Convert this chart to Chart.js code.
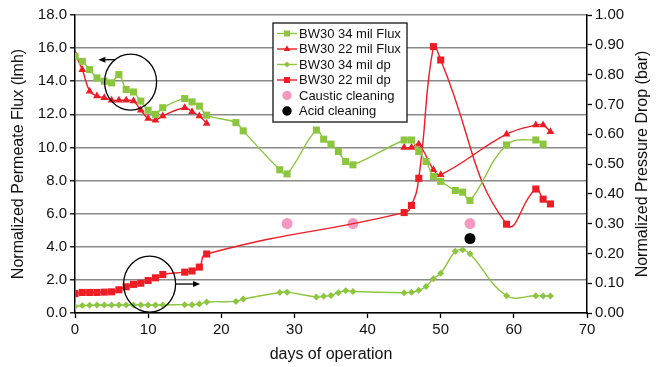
<!DOCTYPE html>
<html><head><meta charset="utf-8">
<script src="https://cdn.jsdelivr.net/npm/chart.js@4"></script>
<style>html,body{margin:0;padding:0;background:#fff}canvas{display:block}</style>
</head><body>
<canvas id="c" width="660" height="367"></canvas>
<script>
// ---- data ----
const flux34Days = [0,1,2,3,4,5,6,7,8,9,10,11,12,15,16,17,18,22,23,28,29,33,34,35,36,37,38,45,46,47,48,49,50,52,53,54,59,63,64];
const flux34     = [15.5,15.2,14.7,14.2,14.0,13.9,14.4,13.5,13.35,12.8,12.25,12.0,12.4,12.95,12.75,12.5,11.95,11.5,11.0,8.65,8.4,11.05,10.5,10.2,9.75,9.15,8.95,10.45,10.45,9.75,9.15,8.25,7.95,7.4,7.3,6.8,10.15,10.45,10.2];
// null = no measurement (line is broken between day 18 and day 45)
const flux22Days = [0,1,2,3,4,5,6,7,8,9,10,11,12,15,16,17,18,30,45,46,47,49,50,59,63,64,65];
const flux22     = [15.65,14.7,13.4,13.1,13.0,12.85,12.85,12.85,12.8,12.25,11.75,11.65,11.9,12.4,12.15,11.9,11.45,null,10.0,10.0,10.2,8.65,8.35,10.8,11.35,11.35,10.95];
const dp34Days   = [0,1,2,3,4,5,6,7,8,9,10,11,12,15,16,17,18,22,23,28,29,33,34,35,36,37,38,45,46,47,48,49,50,52,53,54,59,63,64,65];
const dp34       = [0.022,0.025,0.026,0.027,0.027,0.027,0.027,0.027,0.027,0.027,0.027,0.027,0.027,0.028,0.028,0.030,0.037,0.039,0.047,0.069,0.070,0.054,0.056,0.059,0.068,0.075,0.072,0.068,0.070,0.076,0.089,0.115,0.133,0.207,0.212,0.199,0.058,0.058,0.057,0.057];
const dp22Days   = [0,1,2,3,4,5,6,7,8,9,10,11,12,15,16,17,18,45,46,47,49,50,59,63,64,65];
const dp22       = [0.065,0.069,0.069,0.069,0.070,0.071,0.078,0.088,0.096,0.100,0.109,0.118,0.129,0.137,0.141,0.154,0.198,0.337,0.361,0.452,0.894,0.849,0.298,0.416,0.382,0.366];
const causticDays = [29,38,54];
const caustic     = [0.30,0.30,0.30];
const acidDays    = [54];
const acid        = [0.25];
const xTicks = [0,10,20,30,40,50,60,70];
// annotation marks in data units: [centerDay, centerFlux, arrowFromDay, arrowToDay, arrowFlux]
const circleNotes = [
  [7.6, 13.95, 5.5, 3.2, 15.3],
  [10.2, 1.75, 13.8, 17.1, 1.75]
];

const FONT = '"Liberation Sans", Arial, sans-serif';
const GREEN = '#8cc63f', RED = '#ee1c25', PINK = '#f49ac1';
const pts = (xs, ys) => xs.map((x, i) => ({x, y: ys[i]}));

const datasets = [
  {label:'BW30 34 mil Flux', data:pts(flux34Days, flux34), yAxisID:'y', borderColor:GREEN, backgroundColor:GREEN, pointStyle:'rect', pointRadius:5},
  {label:'BW30 22 mil Flux', data:pts(flux22Days, flux22), yAxisID:'y', borderColor:RED, backgroundColor:RED, pointStyle:'triangle', pointRadius:4.5},
  {label:'BW30 34 mil dp', data:pts(dp34Days, dp34), yAxisID:'y1', borderColor:GREEN, backgroundColor:GREEN, pointStyle:'rectRot', pointRadius:3.5},
  {label:'BW30 22 mil dp', data:pts(dp22Days, dp22), yAxisID:'y1', borderColor:RED, backgroundColor:RED, pointStyle:'rect', pointRadius:5, tension:0.5},
  {label:'Caustic cleaning', data:pts(causticDays, caustic), yAxisID:'y1', borderColor:PINK, backgroundColor:PINK, pointStyle:'circle', pointRadius:5.5, showLine:false},
  {label:'Acid cleaning', data:pts(acidDays, acid), yAxisID:'y1', borderColor:'#000', backgroundColor:'#000', pointStyle:'circle', pointRadius:5.5, showLine:false}
].map(d => Object.assign({borderWidth:1.4, tension:0.4, pointBorderWidth:0, pointHoverRadius:d.pointRadius, spanGaps:false}, d));

const legendPlugin = {
  id:'boxLegend',
  afterDraw(chart, args, o) {
    const ctx = chart.ctx;
    ctx.save();
    ctx.fillStyle = '#fff';
    ctx.fillRect(o.left, o.top, o.width, o.height);
    ctx.strokeStyle = '#333'; ctx.lineWidth = 1.5;
    ctx.strokeRect(o.left, o.top, o.width, o.height);
    ctx.font = o.fontSize + 'px ' + FONT;
    ctx.textBaseline = 'middle';
    chart.data.datasets.forEach((ds, i) => {
      const cy = o.top + o.first + i * o.rowH;
      const x0 = o.left + 4, x1 = o.left + 24;
      if (ds.showLine !== false) {
        ctx.strokeStyle = ds.borderColor; ctx.lineWidth = 1.4;
        ctx.beginPath(); ctx.moveTo(x0, cy); ctx.lineTo(x1, cy); ctx.stroke();
      }
      ctx.fillStyle = ds.backgroundColor;
      Chart.helpers.drawPoint(ctx, {pointStyle:ds.pointStyle, radius:ds.pointRadius*0.85, rotation:0, borderWidth:0}, (x0+x1)/2, cy);
      ctx.fillStyle = '#111';
      ctx.fillText(ds.label, o.left + 26, cy + 0.5);
    });
    ctx.restore();
  }
};

const notesPlugin = {
  id:'notes',
  afterDatasetsDraw(chart) {
    const ctx = chart.ctx, xs = chart.scales.x, ys = chart.scales.y;
    ctx.save();
    ctx.strokeStyle = '#000'; ctx.fillStyle = '#000'; ctx.lineWidth = 1.3;
    circleNotes.forEach(n => {
      const cx = xs.getPixelForValue(n[0]), cy = ys.getPixelForValue(n[1]);
      ctx.beginPath(); ctx.ellipse(cx, cy, 26, 28, 0, 0, Math.PI*2); ctx.stroke();
      const ax0 = xs.getPixelForValue(n[2]), ax1 = xs.getPixelForValue(n[3]), ay = ys.getPixelForValue(n[4]);
      const dir = Math.sign(ax1 - ax0);
      ctx.beginPath(); ctx.moveTo(ax0, ay); ctx.lineTo(ax1 - dir*5, ay); ctx.stroke();
      ctx.beginPath(); ctx.moveTo(ax1, ay); ctx.lineTo(ax1 - dir*7, ay - 3); ctx.lineTo(ax1 - dir*7, ay + 3); ctx.closePath(); ctx.fill();
    });
    ctx.restore();
  },
  afterDraw(chart) {
    const ctx = chart.ctx, a = chart.chartArea;
    ctx.save();
    ctx.font = '16px ' + FONT; ctx.fillStyle = '#111';
    ctx.textAlign = 'center'; ctx.textBaseline = 'middle';
    ctx.translate(643, (a.top + a.bottom)/2);
    ctx.rotate(-Math.PI/2);
    ctx.fillText('Normalized Pressure Drop (bar)', 0, 0);
    ctx.restore();
  }
};

const tickFont = {family:FONT, size:15};
const titleFont = {family:FONT, size:16};
new Chart(document.getElementById('c'), {
  type:'line',
  data:{datasets},
  plugins:[notesPlugin, legendPlugin],
  options:{
    responsive:false, animation:false, devicePixelRatio:1,
    layout:{padding:{top:15, left:0, right:0, bottom:0}},
    plugins:{
      legend:{display:false}, tooltip:{enabled:false},
      boxLegend:{left:273, top:23, width:134, height:99, first:10.5, rowH:15.5, fontSize:13}
    },
    scales:{
      x:{type:'linear', min:0, max:70,
         afterBuildTicks: s => { s.ticks = xTicks.map(v => ({value:v})); },
         afterFit: s => { s.height = 54; },
         ticks:{font:tickFont, color:'#111', padding:3, maxRotation:0},
         grid:{drawOnChartArea:false, tickLength:5, tickColor:'#000', tickWidth:1.3},
         border:{display:true, color:'#000', width:1.5},
         title:{display:true, text:'days of operation', font:titleFont, color:'#111', padding:{top:0, bottom:3}}},
      y:{position:'left', min:0, max:18,
         afterFit: s => { s.width = 75; },
         ticks:{stepSize:2, font:tickFont, color:'#111', padding:3, callback:v => v.toFixed(1)},
         grid:{color:'#8a8a8a', lineWidth:1.6, tickLength:5, tickColor:'#000', tickWidth:1.3},
         border:{display:true, color:'#000', width:1.5},
         title:{display:true, text:'Normalized Permeate Flux (lmh)', font:titleFont, color:'#111', padding:{top:9, bottom:0}}},
      y1:{position:'right', min:0, max:1,
         afterFit: s => { s.width = 73; },
         ticks:{stepSize:0.1, font:tickFont, color:'#111', padding:3, callback:v => v.toFixed(2)},
         grid:{drawOnChartArea:false, tickLength:5, tickColor:'#000', tickWidth:1.3},
         border:{display:true, color:'#000', width:1.5}}
    }
  }
});
</script>
</body></html>
